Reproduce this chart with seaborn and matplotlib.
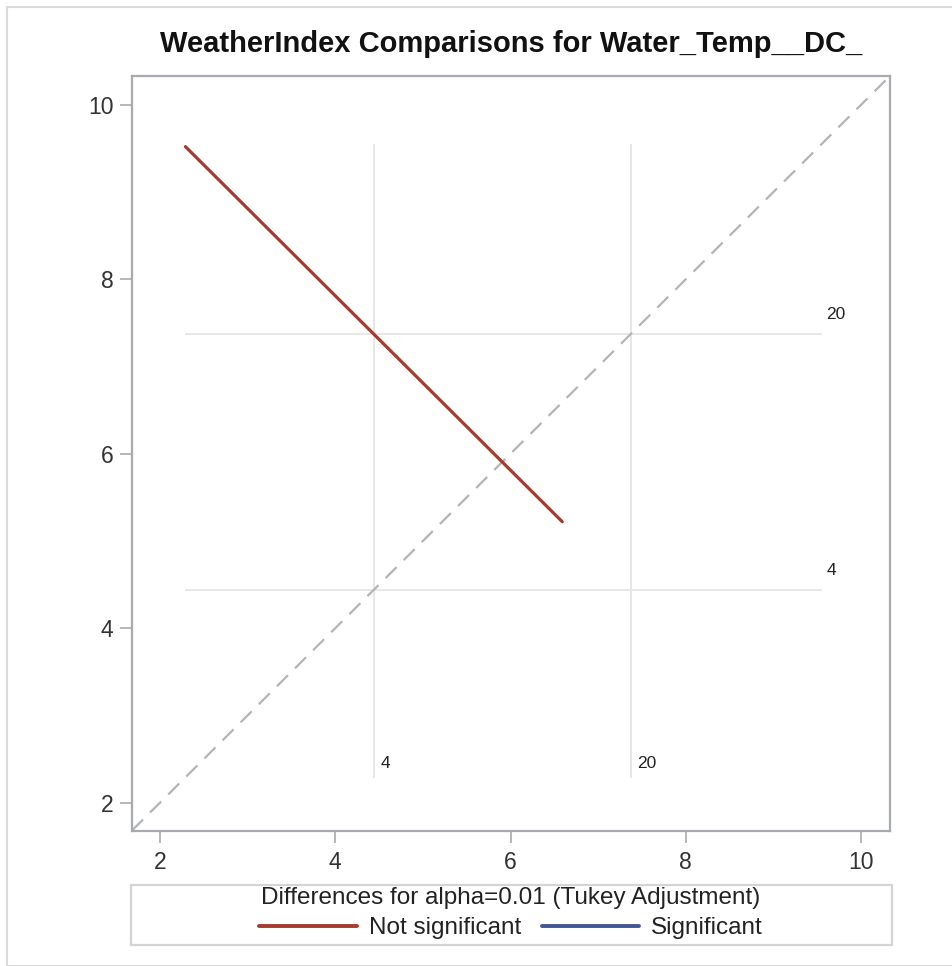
import matplotlib
matplotlib.use("Agg")
import matplotlib.pyplot as plt
from matplotlib.lines import Line2D
from matplotlib.patches import Rectangle
import numpy as np
import pandas as pd
import seaborn as sns

# WeatherIndex levels and their LS-means of Water_Temp (DC)
levels = ["4", "20"]
lsmeans = [4.44, 7.37]
# half-length of the comparison segment (Tukey interval, alpha = 0.01)
half_width = 2.15
# extent of the reference lines for each level
ref_lo, ref_hi = 2.28, 9.55
axis_lo, axis_hi = 1.68, 10.33
ticks = [2, 4, 6, 8, 10]

title = "WeatherIndex Comparisons for Water_Temp__DC_"
legend_title = "Differences for alpha=0.01 (Tukey Adjustment)"
sig_labels = ["Not significant", "Significant"]
sig_colors = {"Not significant": "#A53B2F", "Significant": "#445694"}

sns.set_theme(style="white")
plt.rcParams["font.family"] = ["Liberation Sans", "DejaVu Sans"]

W, H = 952, 966
fig = plt.figure(figsize=(W / 100, H / 100), dpi=100)
ax = fig.add_axes([132 / W, 1 - 830.5 / H, 758 / W, 754.5 / H])

# one segment per pair of levels, centred on (mean_i, mean_j)
rows = []
for i in range(len(levels)):
    for j in range(i + 1, len(levels)):
        mi, mj = lsmeans[i], lsmeans[j]
        sig = "Not significant" if abs(mj - mi) < 2 * half_width else "Significant"
        pair = f"{levels[i]}-{levels[j]}"
        rows.append({"pair": pair, "x": mi - half_width, "y": mj + half_width, "sig": sig})
        rows.append({"pair": pair, "x": mi + half_width, "y": mj - half_width, "sig": sig})
diffs = pd.DataFrame(rows)

# reference grid for each level mean
ax.hlines(lsmeans, ref_lo, ref_hi, color="#E3E3E3", lw=1.2, zorder=1)
ax.vlines(lsmeans, ref_lo, ref_hi, color="#E3E3E3", lw=1.2, zorder=1)
for lab, m in zip(levels, lsmeans):
    ax.annotate(lab, xy=(ref_hi, m), xytext=(3.5, 8.5), textcoords="offset points",
                ha="left", va="bottom", fontsize=12.5, color="#222222")
    ax.annotate(lab, xy=(m, ref_lo), xytext=(5, 5), textcoords="offset points",
                ha="left", va="bottom", fontsize=12.5, color="#222222")

# line of equality
ax.plot([axis_lo, axis_hi], [axis_lo, axis_hi], color="#B4B4B4", lw=1.6,
        dashes=(7, 4.5), zorder=2)

sns.lineplot(data=diffs, x="x", y="y", hue="sig", units="pair", estimator=None,
             sort=False, palette=sig_colors, lw=2.3, legend=False, ax=ax, zorder=3)

ax.set_xlim(axis_lo, axis_hi)
ax.set_ylim(axis_lo, axis_hi)
ax.set_xticks(ticks)
ax.set_yticks(ticks)
ax.set_xlabel("")
ax.set_ylabel("")
for s in ax.spines.values():
    s.set_color("#A7ABAF")
    s.set_linewidth(1.6)
ax.tick_params(axis="both", which="major", length=8.5, width=1.2, color="#A7ABAF",
               labelsize=16.5, labelcolor="#333333", direction="out",
               bottom=True, left=True)
ax.tick_params(axis="x", pad=6)
ax.tick_params(axis="y", pad=5)

fig.text(511 / W, 1 - 44 / H, title, ha="center", va="center",
         fontsize=21, fontweight="bold", color="#111111")

# legend below the plot, inside its own light frame
handles = [Line2D([0], [0], color=sig_colors[s], lw=2.8) for s in sig_labels]
leg = fig.legend(handles, sig_labels, title=legend_title, ncol=2, frameon=False,
                 loc="center", bbox_to_anchor=(511 / W, 1 - 913 / H),
                 fontsize=17.5, title_fontsize=17.5, handlelength=4.0,
                 columnspacing=0.85, handletextpad=0.5, borderpad=0.0,
                 labelspacing=0.33)
leg.get_title().set_color("#222222")
for t in leg.get_texts():
    t.set_color("#222222")
fig.add_artist(Rectangle((131 / W, 1 - 945 / H), 761 / W, 60 / H, transform=fig.transFigure,
                         fill=False, ec="#D4D4D4", lw=1.6))

# outer frame of the graph area
fig.add_artist(Rectangle((6.5 / W, 1 - 965.5 / H), 1.2, 958.5 / H, transform=fig.transFigure,
                         fill=False, ec="#DADADA", lw=1.5, clip_on=False))

fig.savefig("out.png", dpi=100, facecolor="white")
